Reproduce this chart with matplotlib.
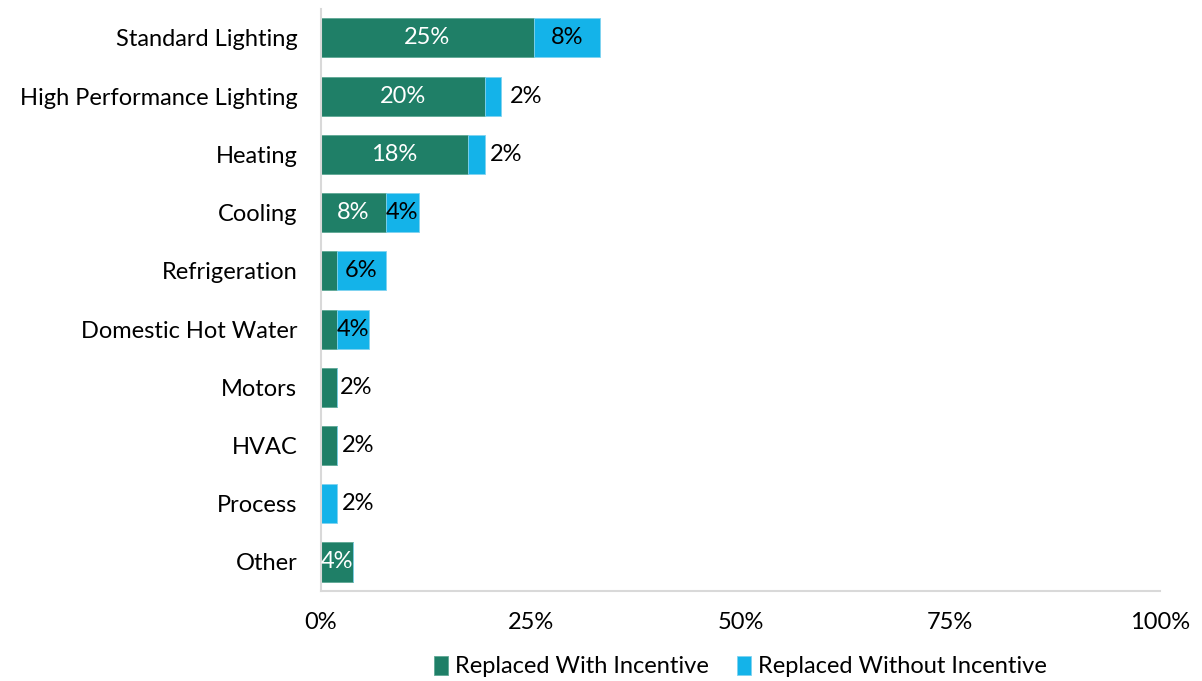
import matplotlib
matplotlib.use("Agg")
import matplotlib.pyplot as plt
import numpy as np

plt.rcParams["font.family"] = ["Lato", "DejaVu Sans"]

categories = ["Standard Lighting", "High Performance Lighting", "Heating", "Cooling",
              "Refrigeration", "Domestic Hot Water", "Motors", "HVAC", "Process", "Other"]
with_incentive = [25.4, 19.5, 17.5, 7.7, 1.9, 1.9, 1.9, 1.9, 0.0, 3.8]
without_incentive = [7.9, 2.0, 2.0, 4.0, 5.8, 3.8, 0.0, 0.0, 1.9, 0.0]
series_names = ["Replaced With Incentive", "Replaced Without Incentive"]
x_ticks = [0, 25, 50, 75, 100]

# label placement per segment: "in" = centred in the bar, "out" = just past its end, None = no label
with_place = ["in", "in", "in", "in", None, None, "out", "out", None, "in"]
without_place = ["in", "out", "out", "in", "in", "in", None, None, "out", None]
out_gap_with = [0, 0, 0, 0, 0, 0, 0.3, 0.6, 0, 0]
out_gap_without = [0, 1.0, 0.6, 0, 0, 0, 0, 0, 0.6, 0]

green = "#1F7F67"
blue = "#14B3E9"

fig = plt.figure(figsize=(12.02, 6.81), dpi=100)
ax = fig.add_axes([0.267, 0.132, 0.698, 0.855])

y = np.arange(len(categories))
h = 0.67
ax.barh(y, with_incentive, height=h, color=green, edgecolor="#5fa895", linewidth=0.6,
        label=series_names[0])
ax.barh(y, without_incentive, height=h, left=with_incentive, color=blue,
        edgecolor="#7fd3f0", linewidth=0.6, label=series_names[1])

fs = 17
for i in range(len(categories)):
    g = with_incentive[i]
    b = without_incentive[i]
    if with_place[i] == "in":
        ax.text(g / 2, y[i], f"{g:.0f}%", ha="center", va="center", color="white", fontsize=fs)
    elif with_place[i] == "out":
        ax.text(g + out_gap_with[i], y[i], f"{g:.0f}%", ha="left", va="center",
                color="black", fontsize=fs)
    if without_place[i] == "in":
        ax.text(g + b / 2, y[i], f"{b:.0f}%", ha="center", va="center", color="black", fontsize=fs)
    elif without_place[i] == "out":
        ax.text(g + b + out_gap_without[i], y[i], f"{b:.0f}%", ha="left", va="center",
                color="black", fontsize=fs)

ax.set_xlim(0, 100)
ax.set_ylim(len(categories) - 0.5, -0.5)
ax.set_yticks(y)
ax.set_yticklabels(categories, fontsize=fs)
ax.set_xticks(x_ticks)
ax.set_xticklabels([f"{t}%" for t in x_ticks], fontsize=fs)
ax.tick_params(axis="both", length=0)
ax.tick_params(axis="y", pad=17)
ax.tick_params(axis="x", pad=15)
for s in ["top", "right"]:
    ax.spines[s].set_visible(False)
ax.spines["left"].set_color("#d9d9d9")
ax.spines["bottom"].set_color("#d9d9d9")
ax.spines["left"].set_linewidth(1.5)
ax.spines["bottom"].set_linewidth(1.5)

fig.legend(loc="lower center", bbox_to_anchor=(0.616, -0.026), ncol=2, frameon=False,
           fontsize=fs, handlelength=0.6, handleheight=0.9, handletextpad=0.3,
           columnspacing=1.2)

fig.savefig("out.png", dpi=100)
